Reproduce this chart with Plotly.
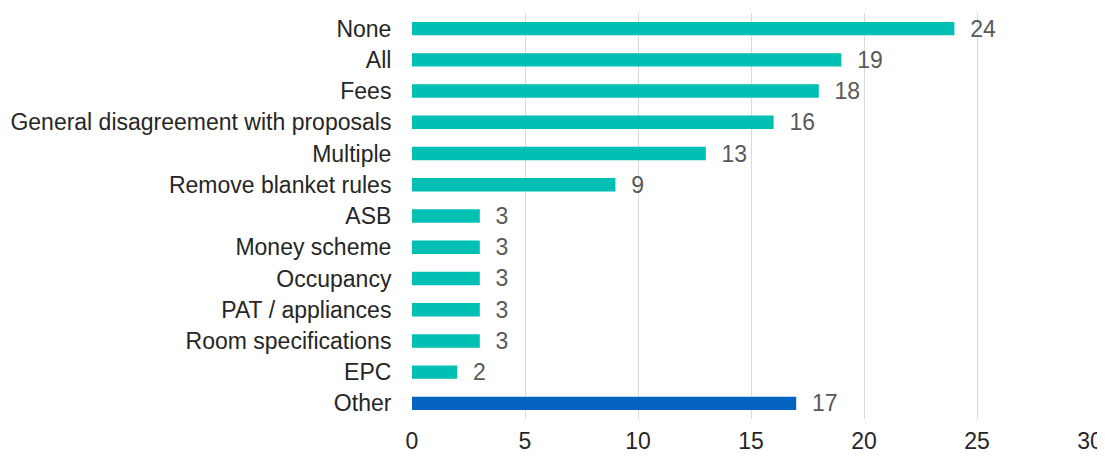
import plotly.graph_objects as go

categories = ["None", "All", "Fees", "General disagreement with proposals", "Multiple",
              "Remove blanket rules", "ASB", "Money scheme", "Occupancy",
              "PAT / appliances", "Room specifications", "EPC", "Other"]
values = [24, 19, 18, 16, 13, 9, 3, 3, 3, 3, 3, 2, 17]
tick_vals = [0, 5, 10, 15, 20, 25, 30]

teal = "#00BFB3"
blue = "#0563C1"
colors = [blue if c == "Other" else teal for c in categories]

FONT = "Liberation Sans, Arial"
FS = 23

fig = go.Figure(go.Bar(
    x=values, y=categories, orientation="h",
    marker=dict(color=colors, line=dict(width=0)),
    width=0.43,
    text=values, texttemplate="  %{x}", textposition="outside",
    constraintext="none",
    textfont=dict(family=FONT, size=FS, color="#595959"),
    cliponaxis=False,
))

fig.update_layout(
    width=1097, height=451,
    margin=dict(l=404, r=15, t=5, b=40),
    paper_bgcolor="white", plot_bgcolor="white",
    font=dict(family=FONT, size=FS, color="#262626"),
    showlegend=False,
    xaxis=dict(range=[0, 30], tickvals=tick_vals, showgrid=True, gridcolor="#D9D9D9",
               gridwidth=1, zeroline=False, showline=False, ticks="outside",
               ticklen=1, tickcolor="white", automargin=False,
               tickfont=dict(size=FS, color="#262626")),
    yaxis=dict(autorange="reversed", showgrid=False, zeroline=False, showline=False,
               ticks="outside", ticklen=15, tickcolor="white", automargin=False,
               tickfont=dict(size=FS, color="#262626")),
)

fig.write_html("out.html")
